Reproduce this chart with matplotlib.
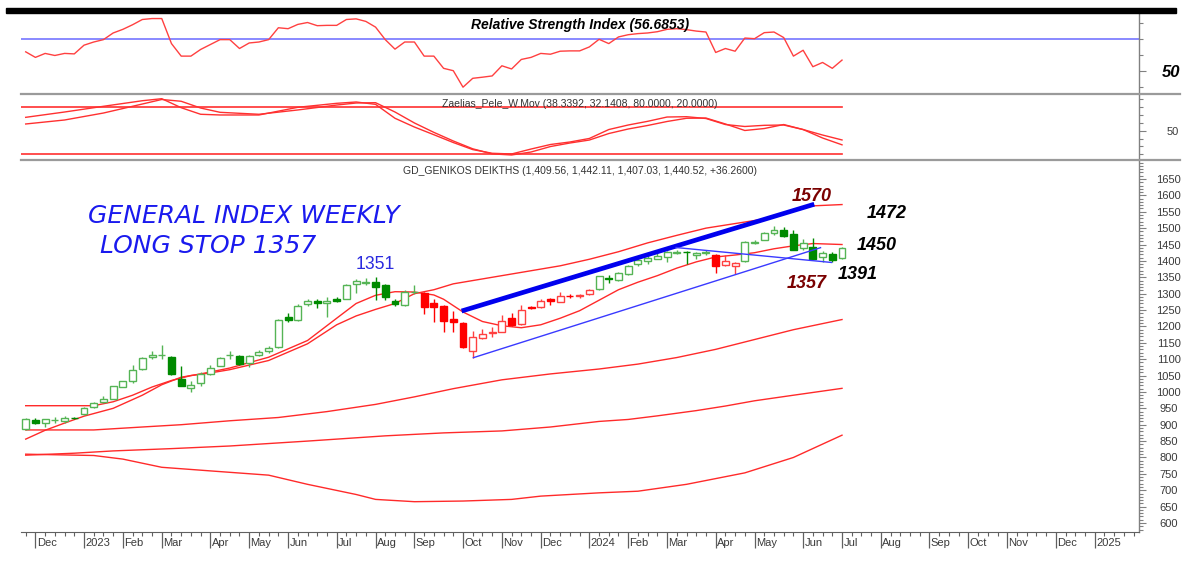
import numpy as np
import pandas as pd
import matplotlib
matplotlib.use('Agg')
import matplotlib.pyplot as plt
import matplotlib.dates as mdates
import matplotlib.transforms as mtransforms
from matplotlib.lines import Line2D
from matplotlib.patches import Rectangle
from matplotlib.ticker import FixedLocator, MultipleLocator, NullFormatter

plt.rcParams['font.family'] = ['Liberation Sans', 'DejaVu Sans']

# ---------------- data (weekly bars, Friday close) ----------------
first_week = '2022-11-25'
n_weeks = 85

opens = [886, 913, 905, 913, 910, 921, 933, 953, 968, 979,
         1016, 1032, 1069, 1106, 1112, 1108, 1041, 1012, 1026, 1055,
         1080, 1112, 1110, 1089, 1113, 1124, 1136, 1228, 1220, 1267,
         1277, 1270, 1285, 1285, 1328, 1334, 1335, 1325, 1279, 1265,
         1304, 1302, 1271, 1262, 1224, 1210, 1126, 1166, 1181, 1184,
         1225, 1206, 1259, 1259, 1283, 1276, 1294, 1294, 1298, 1313,
         1348, 1341, 1360, 1390, 1399, 1407, 1412, 1425, 1428, 1417,
         1425, 1417, 1387, 1384, 1399, 1455, 1465, 1484, 1494, 1481,
         1438, 1443, 1412, 1422, 1409.56]
highs = [920, 920, 918, 922, 927, 922, 955, 969, 988, 1018,
         1034, 1081, 1108, 1124, 1142, 1110, 1078, 1034, 1060, 1081,
         1107, 1124, 1113, 1114, 1129, 1140, 1224, 1241, 1268, 1285,
         1285, 1290, 1290, 1330, 1346, 1349, 1351, 1330, 1285, 1310,
         1325, 1304, 1285, 1265, 1246, 1212, 1185, 1193, 1198, 1235,
         1240, 1266, 1262, 1285, 1286, 1305, 1300, 1300, 1313, 1355,
         1356, 1366, 1388, 1406, 1417, 1424, 1430, 1432, 1429, 1428,
         1432, 1422, 1417, 1396, 1462, 1463, 1488, 1506, 1502, 1494,
         1466, 1471, 1429, 1428, 1442.11]
lows = [884, 902, 893, 904, 906, 918, 930, 951, 966, 977,
        1014, 1026, 1067, 1102, 1102, 1053, 1017, 999, 1019, 1052,
        1078, 1102, 1082, 1075, 1110, 1120, 1135, 1213, 1218, 1263,
        1257, 1230, 1276, 1283, 1303, 1325, 1282, 1282, 1262, 1262,
        1298, 1237, 1215, 1184, 1184, 1135, 1103, 1163, 1169, 1182,
        1201, 1204, 1252, 1257, 1266, 1274, 1288, 1288, 1297, 1311,
        1332, 1339, 1357, 1385, 1390, 1405, 1397, 1422, 1390, 1405,
        1417, 1364, 1385, 1360, 1397, 1452, 1463, 1480, 1474, 1432,
        1433, 1405, 1398, 1397, 1407.03]
closes = [917, 904, 917, 915, 920, 920, 951, 967, 977, 1017,
          1032, 1067, 1104, 1114, 1114, 1055, 1019, 1022, 1055, 1074,
          1104, 1114, 1086, 1109, 1121, 1133, 1221, 1220, 1262, 1279,
          1271, 1279, 1278, 1327, 1340, 1336, 1320, 1290, 1268, 1306,
          1306, 1259, 1259, 1218, 1212, 1138, 1169, 1177, 1183, 1218,
          1203, 1251, 1255, 1279, 1279, 1293, 1292, 1296, 1312, 1353,
          1344, 1363, 1385, 1402, 1409, 1415, 1427, 1427, 1426, 1425,
          1427, 1384, 1400, 1394, 1458, 1457, 1486, 1494, 1476, 1433,
          1456, 1407, 1425, 1404, 1440.52]
# g = green regime, r = red regime
bar_regime = 'g' * 41 + 'r' * 18 + 'g' * 12 + 'r' * 3 + 'g' * 11

# upper envelope, moving average and lower envelopes (bar number, value)
upper_idx = [1, 8, 10, 12, 14, 16, 18, 20, 22, 26, 30, 33, 35, 37, 39, 41, 43, 45,
             47, 50, 53, 56, 59, 62, 65, 68, 71, 74, 77, 80, 82, 85]
upper_val = [958, 958, 970, 990, 1015, 1035, 1050, 1058, 1068, 1096, 1147, 1205, 1232,
             1252, 1270, 1300, 1312, 1330, 1340, 1355, 1370, 1385, 1405, 1428, 1455,
             1478, 1500, 1514, 1528, 1552, 1568, 1572]
ma_idx = [1, 3, 5, 7, 10, 13, 15, 17, 19, 22, 26, 30, 33, 35, 37, 39, 41, 43, 44, 46,
          48, 50, 52, 54, 56, 58, 60, 62, 64, 66, 68, 70, 72, 74, 76, 78, 80, 82, 85]
ma_val = [856, 883, 905, 926, 950, 990, 1022, 1045, 1055, 1073, 1106, 1157, 1225, 1270,
          1295, 1306, 1305, 1296, 1283, 1244, 1215, 1202, 1196, 1205, 1225, 1248, 1280,
          1312, 1335, 1355, 1378, 1397, 1412, 1418, 1425, 1437, 1446, 1453, 1450]
low1_idx = [1, 8, 13, 17, 22, 27, 32, 37, 41, 45, 50, 55, 60, 64, 68, 72, 76, 80, 85]
low1_val = [884, 884, 893, 900, 912, 922, 940, 962, 985, 1010, 1037, 1055, 1070, 1085,
            1105, 1130, 1160, 1190, 1221]
low2_idx = [1, 6, 10, 16, 22, 30, 38, 44, 50, 55, 60, 63, 66, 70, 73, 76, 80, 85]
low2_val = [807, 813, 820, 827, 835, 850, 866, 875, 881, 893, 910, 916, 927, 943, 957,
            973, 990, 1011]
low3_idx = [1, 8, 11, 15, 20, 26, 30, 35, 37, 41, 46, 51, 54, 60, 64, 69, 75, 80, 85]
low3_val = [810, 806, 795, 770, 759, 746, 718, 687, 672, 665, 667, 672, 682, 692, 697,
            718, 753, 800, 868]

# trend lines drawn on the chart (date, value)
thick_trend = [('2023-10-05', 1247), ('2024-06-15', 1573)]
lower_trend = [('2023-10-13', 1104), ('2024-06-20', 1441)]
falling_trend = [('2024-03-07', 1441), ('2024-06-28', 1395)]

# RSI, one value per bar
rsi = [61.9, 58.4, 60.9, 59.6, 60.9, 60.6, 66.1, 68.1, 69.6, 73.8,
       76.1, 79.0, 82.3, 82.9, 82.9, 67.1, 59.2, 59.2, 63.4, 66.5,
       69.6, 69.6, 64.0, 67.5, 68.1, 69.6, 77.1, 76.5, 79.2, 80.4,
       78.4, 78.6, 78.6, 82.3, 82.7, 81.1, 77.5, 69.6, 63.6, 68.1,
       68.1, 59.2, 59.2, 51.5, 50.0, 39.6, 45.2, 45.9, 46.7, 53.1,
       51.1, 57.1, 58.4, 60.9, 60.4, 62.3, 62.5, 62.5, 65.0, 69.8,
       67.1, 71.3, 72.7, 73.4, 73.8, 74.6, 76.1, 76.5, 75.9, 75.0,
       74.4, 61.5, 64.0, 62.3, 70.6, 70.2, 74.0, 74.4, 70.9, 59.2,
       62.9, 52.5, 55.2, 51.5, 56.69]

# Zaelias_Pele weighted moving averages (bar number, value)
zp_idx = [1, 5, 9, 13, 15, 17, 19, 21, 25, 29, 33, 35, 37, 39, 41, 43, 45, 47, 49, 51,
          53, 55, 57, 59, 61, 63, 65, 67, 69, 71, 73, 75, 77, 79, 81, 83, 85]
zp_one = [67.2, 74, 81.3, 88.4, 91, 79.5, 71.1, 70.2, 70.2, 80, 85.1, 86.8, 83.8, 66,
          54.8, 45, 35, 26, 21.3, 20.4, 26.7, 32.5, 35.7, 40.2, 51.6, 57.4, 62.1, 67.6,
          68, 65.7, 58, 55.5, 57, 57.4, 51.6, 44.6, 38.3]
zp_two = [58.7, 63.8, 72.7, 84.2, 90, 87.7, 79.1, 73.6, 71.1, 76.6, 82.9, 85.5, 85.9, 74,
          60, 48, 37, 27, 20.5, 19.1, 22.9, 29.9, 34.4, 38.2, 46.5, 52.3, 56.8, 61.9,
          66, 66.3, 58.7, 50.4, 52.9, 58, 51.6, 40.8, 32.1]

rsi_title = 'Relative Strength Index (56.6853)'
zp_title = 'Zaelias_Pele_W.Mov (38.3392, 32.1408, 80.0000, 20.0000)'
price_title = 'GD_GENIKOS DEIKTHS (1,409.56, 1,442.11, 1,407.03, 1,440.52, +36.2600)'

# ---------------- layout (pixels of the 1182x563 picture) ----------------
W, H = 1182, 563
left_px, right_px = 21, 1139
px_per_day = 9.718 / 7.0
first_bar_px = 25.7

dates = pd.date_range(first_week, periods=n_weeks, freq='7D')
x = mdates.date2num(dates)
x0 = x[0] - (first_bar_px - left_px) / px_per_day
x1 = x[0] + (right_px - first_bar_px) / px_per_day


def box(top, bottom):
    return [left_px / W, 1 - bottom / H, (right_px - left_px) / W, (bottom - top) / H]


fig = plt.figure(figsize=(W / 100, H / 100), dpi=100)
ax_r = fig.add_axes(box(13, 94))
ax_z = fig.add_axes(box(94, 160))
ax_m = fig.add_axes(box(160, 531.7))

axis_grey = '#808080'
label_grey = '#3a3a3a'
for ax in (ax_r, ax_z, ax_m):
    ax.set_xlim(x0, x1)
    for s in ('left', 'top', 'bottom'):
        ax.spines[s].set_visible(False)
    ax.spines['right'].set_color(axis_grey)
    ax.spines['right'].set_linewidth(1.0)
    ax.yaxis.tick_right()
    ax.tick_params(axis='y', which='major', direction='out', length=5.0, width=0.8,
                   color=axis_grey, labelsize=8, labelcolor=label_grey)
    ax.tick_params(axis='y', which='minor', direction='out', length=2.6, width=0.8,
                   color=axis_grey)
    ax.set_facecolor('none')
for ax in (ax_r, ax_z):
    ax.tick_params(axis='x', which='both', bottom=False, labelbottom=False)

# ---- RSI panel ----
ax_r.set_ylim(35.3, 86.4)
ax_r.axhline(70, color='#8080ff', lw=1.3, zorder=1)
ax_r.plot(x, rsi, color='#ff4040', lw=1.0, zorder=2)
ax_r.yaxis.set_major_locator(FixedLocator([50]))
ax_r.yaxis.set_minor_locator(FixedLocator([40, 60, 70, 80]))
ax_r.tick_params(axis='y', which='major', pad=18, labelsize=12, labelcolor='black')
for lab in ax_r.get_yticklabels():
    lab.set_fontweight('bold')
    lab.set_fontstyle('italic')
    lab.set_horizontalalignment('center')
ax_r.text(0.5, 1 - 28.5 / H, rsi_title, ha='center', va='baseline',
          transform=mtransforms.blended_transform_factory(ax_r.transAxes, fig.transFigure),
          family=['Liberation Sans Narrow', 'Liberation Sans'], fontsize=10,
          fontweight='bold', fontstyle='italic', color='black')

# ---- Zaelias panel ----
ax_z.set_ylim(12.7, 97)
ax_z.plot([x0, x[-1]], [80, 80], color='#ff3030', lw=1.2)
ax_z.plot([x0, x[-1]], [20, 20], color='#ff3030', lw=1.2)
zx = x[np.array(zp_idx) - 1]
ax_z.plot(zx, zp_one, color='#ff3030', lw=1.0)
ax_z.plot(zx, zp_two, color='#ff3030', lw=1.0)
ax_z.yaxis.set_major_locator(FixedLocator([50]))
ax_z.yaxis.set_minor_locator(FixedLocator([20, 30, 40, 60, 70, 80, 90]))
ax_z.tick_params(axis='y', which='major', pad=19)
for lab in ax_z.get_yticklabels():
    lab.set_horizontalalignment('center')
ax_z.text(0.5, 1 - 107 / H, zp_title, ha='center', va='baseline',
          transform=mtransforms.blended_transform_factory(ax_z.transAxes, fig.transFigure),
          fontsize=7.5, color='#333333')

# ---- price panel ----
ax_m.set_ylim(573.4, 1708)
ax_m.spines['bottom'].set_visible(True)
ax_m.spines['bottom'].set_color('#606060')
ax_m.yaxis.set_major_locator(MultipleLocator(50))
ax_m.yaxis.set_minor_locator(MultipleLocator(10))
ax_m.set_yticks(np.arange(600, 1651, 50))
ax_m.tick_params(axis='y', which='major', pad=16.5)
for lab in ax_m.get_yticklabels():
    lab.set_horizontalalignment('center')

line_red = '#ff2a2a'
for idx, val in ((upper_idx, upper_val), (ma_idx, ma_val), (low1_idx, low1_val),
                 (low2_idx, low2_val), (low3_idx, low3_val)):
    ax_m.plot(x[np.array(idx) - 1], val, color=line_red, lw=1.0, zorder=2)

# candles
for i in range(n_weeks):
    o, h, l, c = opens[i], highs[i], lows[i], closes[i]
    if bar_regime[i] == 'g':
        edge = '#55b455' if c >= o else '#008a00'
    else:
        edge = '#ff4040' if c >= o else '#ff0000'
    face = 'white' if c >= o else edge
    ax_m.vlines(x[i], l, h, color=edge, lw=1.0, zorder=3)
    ax_m.bar(x[i], max(abs(c - o), 0.5), bottom=min(o, c), width=5.0,
             facecolor=face, edgecolor=edge, linewidth=1.0, zorder=4)

# trend lines
for pts, lw, col in ((thick_trend, 3.4, '#0000ee'), (lower_trend, 1.0, '#3a3aff'),
                     (falling_trend, 1.0, '#3a3aff')):
    tx = mdates.date2num(pd.to_datetime([p[0] for p in pts]))
    ax_m.plot(tx, [p[1] for p in pts], color=col, lw=lw, zorder=5,
              solid_capstyle='butt')

# x axis: weekly ticks, month ticks with labels
fridays = pd.date_range('2022-11-18', '2025-02-07', freq='W-FRI')
month_fridays = [d for d in fridays if d.day <= 7]
ax_m.xaxis.set_major_locator(FixedLocator(mdates.date2num(month_fridays)))
ax_m.xaxis.set_minor_locator(FixedLocator(mdates.date2num(fridays)))
ax_m.xaxis.set_major_formatter(NullFormatter())
ax_m.tick_params(axis='x', which='major', direction='out', length=11.5, width=0.9,
                 color='#606060', labelbottom=False)
ax_m.tick_params(axis='x', which='minor', direction='out', length=3.0, width=0.8,
                 color='#606060')
xt = mtransforms.blended_transform_factory(ax_m.transData, fig.transFigure)
for d in month_fridays:
    xv = mdates.date2num(d)
    if x0 < xv < x1:
        txt = str(d.year) if d.month == 1 else d.strftime('%b')
        ax_m.text(xv + 1.0, 1 - 542.5 / H, txt, transform=xt, ha='left', va='center',
                  fontsize=8, color=label_grey, clip_on=False)

ax_m.text(0.5, 1 - 174.5 / H, price_title, ha='center', va='baseline',
          transform=mtransforms.blended_transform_factory(ax_m.transAxes, fig.transFigure),
          fontsize=7.5, color='#333333')

# annotations
hand = dict(family=['DejaVu Sans'], fontweight='light', fontstyle='oblique',
            fontsize=18, color='#1a1aee')
fig.text(88 / W, 1 - 223 / H, 'GENERAL INDEX WEEKLY', ha='left', va='baseline', **hand)
fig.text(100 / W, 1 - 253 / H, 'LONG STOP 1357', ha='left', va='baseline', **hand)
fig.text(375.5 / W, 1 - 269.3 / H, '1351', ha='center', va='baseline',
         fontsize=12.7, color='#2a2adf')
for txt, cx, base, col in (('1570', 811.7, 200.7, '#7a0000'), ('1357', 806.3, 288.3, '#7a0000'),
                           ('1472', 887, 218.3, 'black'), ('1450', 877, 250, 'black'),
                           ('1391', 857.5, 279, 'black')):
    fig.text(cx / W, 1 - base / H, txt, ha='center', va='baseline', fontsize=13,
             fontweight='bold', fontstyle='italic', color=col)

# frame pieces: black top bar, grey panel separators
fig.add_artist(Rectangle((6 / W, 1 - 13 / H), 1170 / W, 5 / H, color='black',
                         transform=fig.transFigure))
for ypx in (94, 160):
    fig.add_artist(Line2D([left_px / W, 1180 / W], [1 - ypx / H] * 2,
                          color='#9a9a9a', lw=1.6, transform=fig.transFigure))

fig.savefig('out.png', dpi=100)
